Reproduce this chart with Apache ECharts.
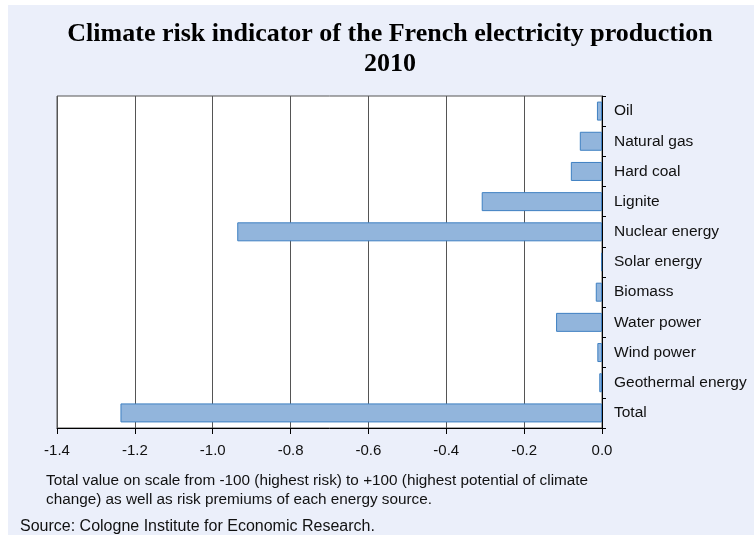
<!DOCTYPE html>
<html>
<head>
<meta charset="utf-8">
<script src="https://cdn.jsdelivr.net/npm/echarts@6/dist/echarts.min.js"></script>
<style>
html,body{margin:0;padding:0;background:#ffffff;}
#main{width:754px;height:535px;}
</style>
</head>
<body>
<div id="main"></div>
<script>
var categories = ["Oil","Natural gas","Hard coal","Lignite","Nuclear energy","Solar energy","Biomass","Water power","Wind power","Geothermal energy","Total"];
var values = [-0.013,-0.057,-0.080,-0.309,-0.937,-0.002,-0.016,-0.118,-0.012,-0.007,-1.237];
var titleLines = ["Climate risk indicator of the French electricity production","2010"];
var noteLines = ["Total value on scale from -100 (highest risk) to +100 (highest potential of climate","change) as well as risk premiums of each energy source."];
var sourceText = "Source: Cologne Institute for Economic Research.";
var xMin = -1.4, xMax = 0, xStep = 0.2;

var chart = echarts.init(document.getElementById('main'), null, {renderer:'canvas'});
var option = {
  animation:false,
  backgroundColor:'#ffffff',
  graphic:[
    {type:'rect', left:8, top:5, shape:{width:746, height:530}, style:{fill:'#EBEFFA'}, z:-10},
    {type:'text', x:390, y:19, style:{text:titleLines.join('\n'), font:'bold 26px "Liberation Serif"', fill:'#000', align:'center', verticalAlign:'top', lineHeight:30}, z:10},
    {type:'text', left:46, top:471, style:{text:noteLines.join('\n'), font:'15.3px "Liberation Sans"', fill:'#111', lineHeight:19}},
    {type:'text', left:20, top:519, style:{text:sourceText, font:'16px "Liberation Sans"', fill:'#111'}}
  ],
  grid:{left:57, right:152, top:96, bottom:107, show:true, backgroundColor:'#ffffff', borderColor:'#555', borderWidth:1},
  xAxis:{
    type:'value', min:xMin, max:xMax, interval:xStep,
    axisLine:{show:true, onZero:false, lineStyle:{color:'#000', width:1}},
    axisTick:{show:true, length:6, lineStyle:{color:'#000'}},
    axisLabel:{margin:15, fontFamily:'Liberation Sans', fontSize:15, color:'#111', formatter:function(v){return v.toFixed(1);}},
    splitLine:{show:true, lineStyle:{color:'#555', width:1}}
  },
  yAxis:{
    type:'category', data:categories, inverse:true, position:'right',
    axisLine:{show:true, onZero:false, lineStyle:{color:'#000', width:1}},
    axisTick:{show:true, length:4, lineStyle:{color:'#000'}},
    axisLabel:{margin:12, fontFamily:'Liberation Sans', fontSize:15.5, color:'#111'},
    splitLine:{show:false}
  },
  series:[{
    type:'bar', data:values, barWidth:19,
    itemStyle:{color:'#92B5DC', borderColor:'#3F80C2', borderWidth:1}
  }]
};
chart.setOption(option);
</script>
</body>
</html>
